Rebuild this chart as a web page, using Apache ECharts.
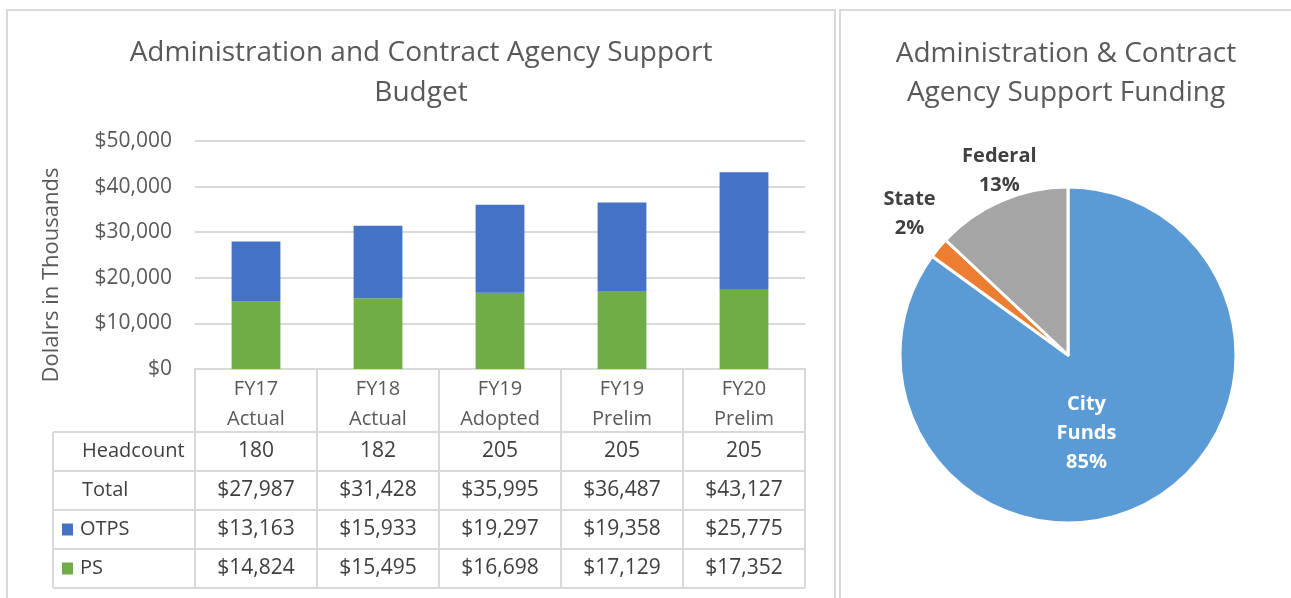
<!DOCTYPE html>
<html>
<head>
<meta charset="utf-8">
<script src="https://cdn.jsdelivr.net/npm/echarts@6/dist/echarts.min.js"></script>
<style>
  html, body { margin: 0; padding: 0; background: #fff; }
  #main { width: 1291px; height: 598px; }
</style>
</head>
<body>
<div id="main"></div>
<script>
// budget data (dollars in thousands)
var categories = ['FY17\nActual', 'FY18\nActual', 'FY19\nAdopted', 'FY19\nPrelim', 'FY20\nPrelim'];
var headcount = [180, 182, 205, 205, 205];
var otps = [13163, 15933, 19297, 19358, 25775];
var ps = [14824, 15495, 16698, 17129, 17352];
var yTicks = [0, 10000, 20000, 30000, 40000, 50000];

// funding split
var fundNames = ['City Funds', 'State', 'Federal'];
var fundShares = [85, 2, 13];

var font = '"Open Sans", "DejaVu Sans", sans-serif';
var grey = '#595959', dark = '#404040', lineCol = '#d9d9d9';
var colOtps = '#4472C4', colPs = '#70AD47';
var fundColors = ['#5B9BD5', '#ED7D31', '#A5A5A5'];

// layout of the left panel
var gL = 195, gR = 805, gT = 141, gB = 369;
var catW = (gR - gL) / categories.length;
var tableLeft = 53;
var rowLines = [432, 471, 510, 549, 588];

function money(v) {
  return '$' + v.toLocaleString('en-US');
}

var totals = otps.map(function (v, i) { return v + ps[i]; });

// table rows: label, legend colour, values
var rows = [
  { name: 'Headcount', color: null, values: headcount.map(String) },
  { name: 'Total', color: null, values: totals.map(money) },
  { name: 'OTPS', color: colOtps, values: otps.map(money) },
  { name: 'PS', color: colPs, values: ps.map(money) }
];

var graphics = [];
// panel frames
graphics.push({ type: 'rect', shape: { x: 7, y: 10, width: 828, height: 620 }, style: { fill: 'none', stroke: lineCol, lineWidth: 2 }, silent: true });
graphics.push({ type: 'rect', shape: { x: 840, y: 10, width: 470, height: 620 }, style: { fill: 'none', stroke: lineCol, lineWidth: 2 }, silent: true });

// table grid lines
rowLines.forEach(function (y) {
  graphics.push({ type: 'line', shape: { x1: tableLeft, y1: y, x2: gR, y2: y }, style: { stroke: lineCol, lineWidth: 2 }, silent: true });
});
graphics.push({ type: 'line', shape: { x1: tableLeft, y1: rowLines[0], x2: tableLeft, y2: rowLines[rowLines.length - 1] }, style: { stroke: lineCol, lineWidth: 2 }, silent: true });
for (var c = 0; c <= categories.length; c++) {
  var xx = gL + c * catW;
  graphics.push({ type: 'line', shape: { x1: xx, y1: gB, x2: xx, y2: rowLines[rowLines.length - 1] }, style: { stroke: lineCol, lineWidth: 2 }, silent: true });
}

// table text
rows.forEach(function (row, r) {
  var cy = (rowLines[r] + rowLines[r + 1]) / 2;
  var tx = 82;
  if (row.color) {
    graphics.push({ type: 'rect', shape: { x: 62, y: cy - 6, width: 11, height: 12 }, style: { fill: row.color }, silent: true });
    tx = 80;
  }
  graphics.push({ type: 'text', x: tx, y: cy, style: { text: row.name, fill: dark, font: '20px ' + font, textAlign: 'left', textVerticalAlign: 'middle' }, silent: true });
  row.values.forEach(function (v, i) {
    graphics.push({ type: 'text', x: gL + (i + 0.5) * catW, y: cy, style: { text: v, fill: dark, font: '21px ' + font, textAlign: 'center', textVerticalAlign: 'middle' }, silent: true });
  });
});

var myChart = echarts.init(document.getElementById('main'));

var option = {
  animation: false,
  textStyle: { fontFamily: font },
  title: [
    {
      text: 'Administration and Contract Agency Support\nBudget',
      left: 421, top: 33, padding: 0, textAlign: 'center',
      textStyle: { color: grey, fontSize: 28, fontWeight: 'normal', lineHeight: 40, fontFamily: font }
    },
    {
      text: 'Administration & Contract\nAgency Support Funding',
      left: 1066, top: 35, padding: 0, textAlign: 'center',
      textStyle: { color: grey, fontSize: 28, fontWeight: 'normal', lineHeight: 39, fontFamily: font }
    }
  ],
  grid: { left: gL, right: 1291 - gR, top: gT, bottom: 598 - gB, containLabel: false },
  xAxis: {
    type: 'category',
    data: categories,
    axisLine: { lineStyle: { color: lineCol, width: 2 } },
    axisTick: { show: false },
    axisLabel: { color: grey, fontSize: 20, lineHeight: 30, margin: 5, interval: 0 }
  },
  yAxis: {
    type: 'value',
    min: yTicks[0], max: yTicks[yTicks.length - 1], interval: 10000,
    name: 'Dolalrs in Thousands',
    nameLocation: 'middle',
    nameGap: 132,
    nameTextStyle: { color: grey, fontSize: 22, padding: [0, 40, 0, 0] },
    axisLine: { show: false },
    axisTick: { show: false },
    splitLine: { lineStyle: { color: lineCol, width: 2 } },
    axisLabel: { color: grey, fontSize: 21, margin: 23, formatter: money }
  },
  series: [
    {
      name: 'PS', type: 'bar', stack: 'budget', data: ps,
      barWidth: '40%', itemStyle: { color: colPs }
    },
    {
      name: 'OTPS', type: 'bar', stack: 'budget', data: otps,
      barWidth: '40%', itemStyle: { color: colOtps }
    },
    {
      name: 'Funding', type: 'pie',
      center: [1068, 355], radius: 168,
      startAngle: 90, clockwise: true,
      itemStyle: { borderColor: '#fff', borderWidth: 3 },
      label: {
        show: true,
        color: dark, fontSize: 20, fontWeight: 'bold', lineHeight: 29,
        formatter: function (p) { return p.name.replace(' ', '\n') + '\n' + p.percent + '%'; }
      },
      labelLayout: function (p) {
        if (p.dataIndex === 0) return { dx: -21, dy: 1 };
        if (p.dataIndex === 1) return { align: 'center', dx: 10, dy: -19 };
        return { align: 'center', dx: 15, dy: -2 };
      },
      data: fundNames.map(function (n, i) {
        var item = { name: n, value: fundShares[i], itemStyle: { color: fundColors[i] } };
        if (i === 0) {
          item.label = { position: 'inside', color: '#fff' };
        } else {
          item.label = { position: 'outside', alignTo: 'none' };
          item.labelLine = { show: false, length: i === 1 ? 44 : 30, length2: 0 };
        }
        return item;
      })
    }
  ],
  graphic: graphics
};

myChart.setOption(option);
</script>
</body>
</html>
